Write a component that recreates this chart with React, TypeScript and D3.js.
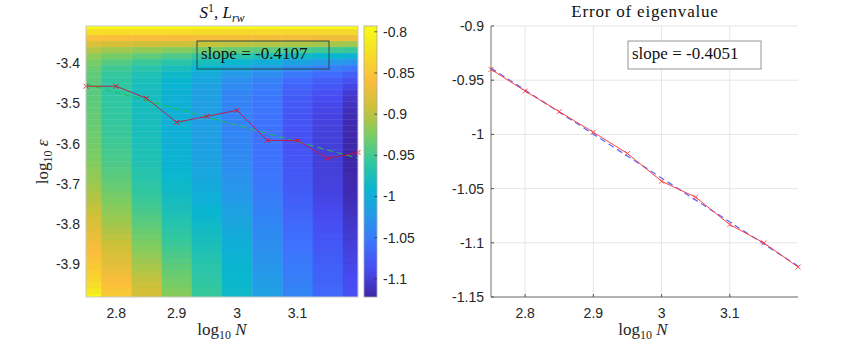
import React from 'react';
import * as d3 from 'd3';

// grid of the heatmap (log10 N columns, log10 eps rows)
const logN = [2.75, 2.8, 2.85, 2.9, 2.95, 3.0, 3.05, 3.1, 3.15, 3.2];
const logEps = [
  -3.307, -3.322, -3.337, -3.352, -3.367, -3.382, -3.397, -3.412, -3.427, -3.442,
  -3.457, -3.472, -3.487, -3.502, -3.517, -3.532, -3.547, -3.562, -3.577, -3.592,
  -3.607, -3.622, -3.637, -3.652, -3.667, -3.682, -3.697, -3.712, -3.727, -3.742,
  -3.757, -3.772, -3.787, -3.802, -3.817, -3.832, -3.847, -3.862, -3.877, -3.892,
  -3.907, -3.922, -3.937, -3.952, -3.967, -3.982,
];

// log10 error, one column per N (top row first)
const err275 = [-0.793, -0.828, -0.856, -0.882, -0.902, -0.917, -0.927, -0.933, -0.937, -0.939, -0.94, -0.94, -0.939, -0.938, -0.937, -0.936, -0.935, -0.934, -0.932, -0.931, -0.929, -0.927, -0.925, -0.922, -0.919, -0.916, -0.913, -0.909, -0.905, -0.901, -0.897, -0.892, -0.887, -0.882, -0.877, -0.872, -0.867, -0.862, -0.857, -0.852, -0.847, -0.842, -0.836, -0.828, -0.816, -0.8];
const err280 = [-0.793, -0.829, -0.858, -0.886, -0.91, -0.928, -0.942, -0.951, -0.956, -0.959, -0.96, -0.96, -0.959, -0.959, -0.958, -0.957, -0.956, -0.955, -0.954, -0.952, -0.951, -0.949, -0.947, -0.945, -0.942, -0.939, -0.936, -0.933, -0.929, -0.925, -0.921, -0.917, -0.913, -0.909, -0.904, -0.899, -0.894, -0.889, -0.884, -0.879, -0.874, -0.868, -0.862, -0.856, -0.85, -0.845];
const err285 = [-0.793, -0.83, -0.86, -0.89, -0.916, -0.937, -0.953, -0.964, -0.971, -0.975, -0.977, -0.978, -0.979, -0.979, -0.978, -0.978, -0.977, -0.977, -0.976, -0.975, -0.974, -0.972, -0.971, -0.969, -0.967, -0.965, -0.962, -0.959, -0.956, -0.953, -0.95, -0.946, -0.942, -0.938, -0.934, -0.93, -0.926, -0.922, -0.917, -0.912, -0.907, -0.902, -0.897, -0.893, -0.889, -0.885];
const err290 = [-0.793, -0.83, -0.861, -0.893, -0.922, -0.945, -0.963, -0.976, -0.985, -0.99, -0.993, -0.995, -0.996, -0.997, -0.997, -0.998, -0.998, -0.998, -0.997, -0.997, -0.996, -0.995, -0.994, -0.993, -0.991, -0.989, -0.987, -0.985, -0.982, -0.979, -0.976, -0.973, -0.97, -0.966, -0.962, -0.958, -0.954, -0.95, -0.946, -0.942, -0.938, -0.934, -0.93, -0.927, -0.923, -0.92];
const err295 = [-0.793, -0.831, -0.862, -0.896, -0.928, -0.955, -0.976, -0.992, -1.003, -1.009, -1.013, -1.015, -1.016, -1.017, -1.017, -1.018, -1.018, -1.017, -1.017, -1.016, -1.015, -1.014, -1.013, -1.011, -1.009, -1.007, -1.005, -1.003, -1.0, -0.997, -0.994, -0.991, -0.988, -0.985, -0.982, -0.979, -0.976, -0.973, -0.97, -0.967, -0.964, -0.962, -0.96, -0.958, -0.956, -0.955];
const err300 = [-0.793, -0.832, -0.863, -0.899, -0.934, -0.964, -0.989, -1.008, -1.022, -1.031, -1.037, -1.04, -1.042, -1.042, -1.043, -1.043, -1.042, -1.042, -1.041, -1.04, -1.039, -1.038, -1.036, -1.034, -1.032, -1.03, -1.028, -1.026, -1.023, -1.02, -1.017, -1.014, -1.011, -1.008, -1.005, -1.002, -0.999, -0.997, -0.995, -0.993, -0.991, -0.99, -0.989, -0.988, -0.986, -0.985];
const err305 = [-0.793, -0.832, -0.864, -0.902, -0.94, -0.973, -1.0, -1.02, -1.034, -1.043, -1.048, -1.051, -1.053, -1.054, -1.055, -1.056, -1.057, -1.057, -1.058, -1.058, -1.058, -1.057, -1.057, -1.056, -1.055, -1.054, -1.053, -1.051, -1.049, -1.047, -1.045, -1.043, -1.041, -1.039, -1.037, -1.035, -1.033, -1.031, -1.029, -1.027, -1.025, -1.023, -1.021, -1.019, -1.017, -1.015];
const err310 = [-0.793, -0.833, -0.865, -0.905, -0.946, -0.982, -1.012, -1.035, -1.051, -1.062, -1.069, -1.073, -1.076, -1.078, -1.08, -1.081, -1.082, -1.082, -1.083, -1.083, -1.083, -1.082, -1.082, -1.081, -1.08, -1.079, -1.078, -1.076, -1.074, -1.072, -1.07, -1.068, -1.066, -1.064, -1.062, -1.06, -1.058, -1.056, -1.054, -1.052, -1.05, -1.048, -1.046, -1.044, -1.042, -1.04];
const err315 = [-0.793, -0.833, -0.866, -0.908, -0.951, -0.99, -1.022, -1.046, -1.062, -1.073, -1.08, -1.085, -1.089, -1.092, -1.094, -1.096, -1.097, -1.098, -1.099, -1.099, -1.1, -1.1, -1.1, -1.1, -1.099, -1.099, -1.098, -1.097, -1.096, -1.094, -1.092, -1.09, -1.088, -1.086, -1.084, -1.082, -1.08, -1.078, -1.076, -1.074, -1.072, -1.071, -1.07, -1.068, -1.066, -1.065];
const err320 = [-0.793, -0.834, -0.867, -0.91, -0.955, -0.995, -1.028, -1.053, -1.072, -1.085, -1.095, -1.102, -1.107, -1.111, -1.114, -1.116, -1.118, -1.119, -1.12, -1.121, -1.121, -1.122, -1.122, -1.121, -1.121, -1.12, -1.119, -1.118, -1.117, -1.115, -1.113, -1.111, -1.109, -1.107, -1.105, -1.103, -1.101, -1.099, -1.097, -1.095, -1.093, -1.091, -1.089, -1.088, -1.086, -1.085];
const errCols = [err275, err280, err285, err290, err295, err300, err305, err310, err315, err320];

// optimal log10 eps per N (red line, left) and the error there (right)
const optEps = [-3.457, -3.457, -3.487, -3.547, -3.532, -3.517, -3.592, -3.592, -3.637, -3.622];
const minErr = [-0.94, -0.96, -0.979, -0.998, -1.0176, -1.0432, -1.0579, -1.0832, -1.1001, -1.1223];

const xTicks = [2.8, 2.9, 3, 3.1];
const epsTicks = [-3.4, -3.5, -3.6, -3.7, -3.8, -3.9];
const cbarTicks = [-0.8, -0.85, -0.9, -0.95, -1, -1.05, -1.1];
const errTicks = [-0.9, -0.95, -1, -1.05, -1.1, -1.15];

// parula colormap anchors
const parula = ['#3e26a8', '#474bf1', '#3d73fe', '#2599e9', '#09b6d0', '#31c7a0',
  '#7dcd60', '#cec138', '#fbbd3c', '#f5df27', '#f9fb15'];
const cmap = d3.piecewise(d3.interpolateRgb, parula);

const W = 853, H = 345;
const LP = { x0: 86, x1: 358, y0: 26, y1: 297 };
const CB = { x0: 364, x1: 377 };
const RP = { x0: 491, x1: 798, y0: 26, y1: 297 };
const sans = '"Liberation Sans", Arial, sans-serif';
const serif = '"Liberation Serif", "Times New Roman", serif';

// least squares line
function fitLine(xs: number[], ys: number[]) {
  const mx = d3.mean(xs) as number, my = d3.mean(ys) as number;
  let sxy = 0, sxx = 0;
  xs.forEach((x, i) => { sxy += (x - mx) * (ys[i] - my); sxx += (x - mx) ** 2; });
  const k = sxy / sxx;
  return (x: number) => my + k * (x - mx);
}

const Cross = ({ x, y, c }: { x: number; y: number; c: string }) => (
  <path d={`M${x - 2.5},${y - 2.5}L${x + 2.5},${y + 2.5}M${x - 2.5},${y + 2.5}L${x + 2.5},${y - 2.5}`}
    stroke={c} strokeWidth={0.9} />
);

const Log10N = ({ x, y }: { x: number; y: number }) => (
  <text x={x} y={y} textAnchor="middle" fontFamily={serif} fontSize={17} fill="#262626">
    log<tspan dy={4} fontSize={12}>10</tspan><tspan dy={-4}> </tspan><tspan fontStyle="italic">N</tspan>
  </text>
);

export default function App() {
  const xL = d3.scaleLinear().domain([2.75, 3.2]).range([LP.x0, LP.x1]);
  const yL = d3.scaleLinear().domain([logEps[logEps.length - 1], logEps[0]]).range([LP.y1, LP.y0]);
  const ext = d3.extent(errCols.flat()) as [number, number];
  const color = d3.scaleSequential(cmap).domain(ext);
  const yCB = d3.scaleLinear().domain(ext).range([LP.y1, LP.y0]);
  const xR = d3.scaleLinear().domain([2.75, 3.2]).range([RP.x0, RP.x1]);
  const yR = d3.scaleLinear().domain([-1.15, -0.9]).range([RP.y1, RP.y0]);

  const dn = (logN[1] - logN[0]) / 2;
  const de = (logEps[0] - logEps[1]) / 2;

  const fitL = fitLine(logN, optEps);
  const fitR = fitLine(logN, minErr);

  const lineL = d3.line<number>().x((_, i) => xL(logN[i])).y(d => yL(d));
  const lineR = d3.line<number>().x((_, i) => xR(logN[i])).y(d => yR(d));

  const gradStops = d3.range(0, 1.0001, 1 / 40);

  return (
    <svg width={W} height={H} style={{ position: 'absolute', left: 0, top: 0, background: '#fff' }}>
      <defs>
        <clipPath id="clipL"><rect x={LP.x0} y={LP.y0} width={LP.x1 - LP.x0} height={LP.y1 - LP.y0} /></clipPath>
        <linearGradient id="cbar" x1="0" y1="1" x2="0" y2="0">
          {gradStops.map(t => <stop key={t} offset={t} stopColor={cmap(t)} />)}
        </linearGradient>
      </defs>

      {/* left: heatmap */}
      <g clipPath="url(#clipL)">
        {errCols.map((col, c) => col.map((v, r) => {
          const x0 = xL(logN[c] - dn), x1 = xL(logN[c] + dn);
          const y0 = yL(logEps[r] + de), y1 = yL(logEps[r] - de);
          return <rect key={`${c}-${r}`} x={x0} y={y0} width={x1 - x0 + 0.4} height={y1 - y0 + 0.4} fill={color(v)} />;
        }))}
        <line x1={xL(2.75)} y1={yL(fitL(2.75))} x2={xL(3.2)} y2={yL(fitL(3.2))}
          stroke="#1fc23c" strokeWidth={1} strokeDasharray="6,4" />
        <path d={lineL(optEps) || ''} fill="none" stroke="#c8143c" strokeWidth={0.9} />
      </g>
      {optEps.map((v, i) => <Cross key={i} x={xL(logN[i])} y={yL(v)} c="#e0102e" />)}
      <rect x={LP.x0} y={LP.y0} width={LP.x1 - LP.x0} height={LP.y1 - LP.y0} fill="none" stroke="#c8c8c8" strokeWidth={1} />
      <rect x={197} y={41} width={132} height={28} fill="none" stroke="#2a3a3a" strokeWidth={0.9} />
      <text x={201} y={59} fontFamily={serif} fontSize={17} fill="#111">slope = -0.4107</text>

      {epsTicks.map(t => (
        <text key={t} x={80} y={yL(t)} dy="0.35em" textAnchor="end" fontFamily={sans} fontSize={14} fill="#262626">{t}</text>
      ))}
      {xTicks.map(t => (
        <text key={t} x={xL(t)} y={318} textAnchor="middle" fontFamily={sans} fontSize={14} fill="#262626">{t}</text>
      ))}
      <text x={222} y={18} textAnchor="middle" fontFamily={serif} fontSize={17} fill="#111">
        <tspan fontStyle="italic">S</tspan><tspan dy={-6} fontSize={12}>1</tspan><tspan dy={6}>,  </tspan>
        <tspan fontStyle="italic">L</tspan><tspan dy={4} fontSize={12} fontStyle="italic">rw</tspan>
      </text>
      <Log10N x={222} y={335} />
      <text transform="translate(48,162) rotate(-90)" textAnchor="middle" fontFamily={serif} fontSize={17} fill="#262626">
        log<tspan dy={4} fontSize={12}>10</tspan><tspan dy={-4}> </tspan><tspan fontStyle="italic">ε</tspan>
      </text>

      {/* colorbar */}
      <rect x={CB.x0} y={LP.y0} width={CB.x1 - CB.x0} height={LP.y1 - LP.y0} fill="url(#cbar)" stroke="#a8a8a8" strokeWidth={0.8} />
      {cbarTicks.map(t => (
        <g key={t}>
          <line x1={CB.x1 - 2.5} x2={CB.x1} y1={yCB(t)} y2={yCB(t)} stroke="#333" strokeWidth={0.8} />
          <text x={383} y={yCB(t)} dy="0.35em" fontFamily={sans} fontSize={14} fill="#262626">{t}</text>
        </g>
      ))}

      {/* right: error of eigenvalue */}
      {xTicks.map(t => <line key={t} x1={xR(t)} x2={xR(t)} y1={RP.y0} y2={RP.y1} stroke="#e6e6e6" />)}
      {errTicks.map(t => <line key={t} x1={RP.x0} x2={RP.x1} y1={yR(t)} y2={yR(t)} stroke="#e6e6e6" />)}
      <line x1={xR(2.75)} y1={yR(fitR(2.75))} x2={xR(3.2)} y2={yR(fitR(3.2))}
        stroke="#5e6cff" strokeWidth={1.3} strokeDasharray="6,4" />
      <path d={lineR(minErr) || ''} fill="none" stroke="#ff4040" strokeWidth={1} />
      {minErr.map((v, i) => <Cross key={i} x={xR(logN[i])} y={yR(v)} c="#ff4040" />)}
      <line x1={RP.x0} x2={RP.x0} y1={RP.y0} y2={RP.y1} stroke="#707070" />
      <line x1={RP.x0} x2={RP.x1} y1={RP.y1} y2={RP.y1} stroke="#707070" />
      {errTicks.map(t => <line key={t} x1={RP.x0} x2={RP.x0 + 3} y1={yR(t)} y2={yR(t)} stroke="#555" />)}
      {xTicks.map(t => <line key={t} x1={xR(t)} x2={xR(t)} y1={RP.y1} y2={RP.y1 - 3} stroke="#555" />)}
      {errTicks.map(t => (
        <text key={t} x={484} y={yR(t)} dy="0.35em" textAnchor="end" fontFamily={sans} fontSize={14} fill="#262626">{t}</text>
      ))}
      {xTicks.map(t => (
        <text key={t} x={xR(t)} y={318} textAnchor="middle" fontFamily={sans} fontSize={14} fill="#262626">{t}</text>
      ))}
      <rect x={628} y={41} width={133} height={28} fill="#fff" stroke="#8a8a8a" strokeWidth={0.9} />
      <text x={632} y={59} fontFamily={serif} fontSize={17} fill="#111">slope = -0.4051</text>
      <text x={645} y={17} textAnchor="middle" fontFamily={serif} fontSize={17} letterSpacing={0.8} fill="#111">Error of eigenvalue</text>
      <Log10N x={643} y={335} />
    </svg>
  );
}
